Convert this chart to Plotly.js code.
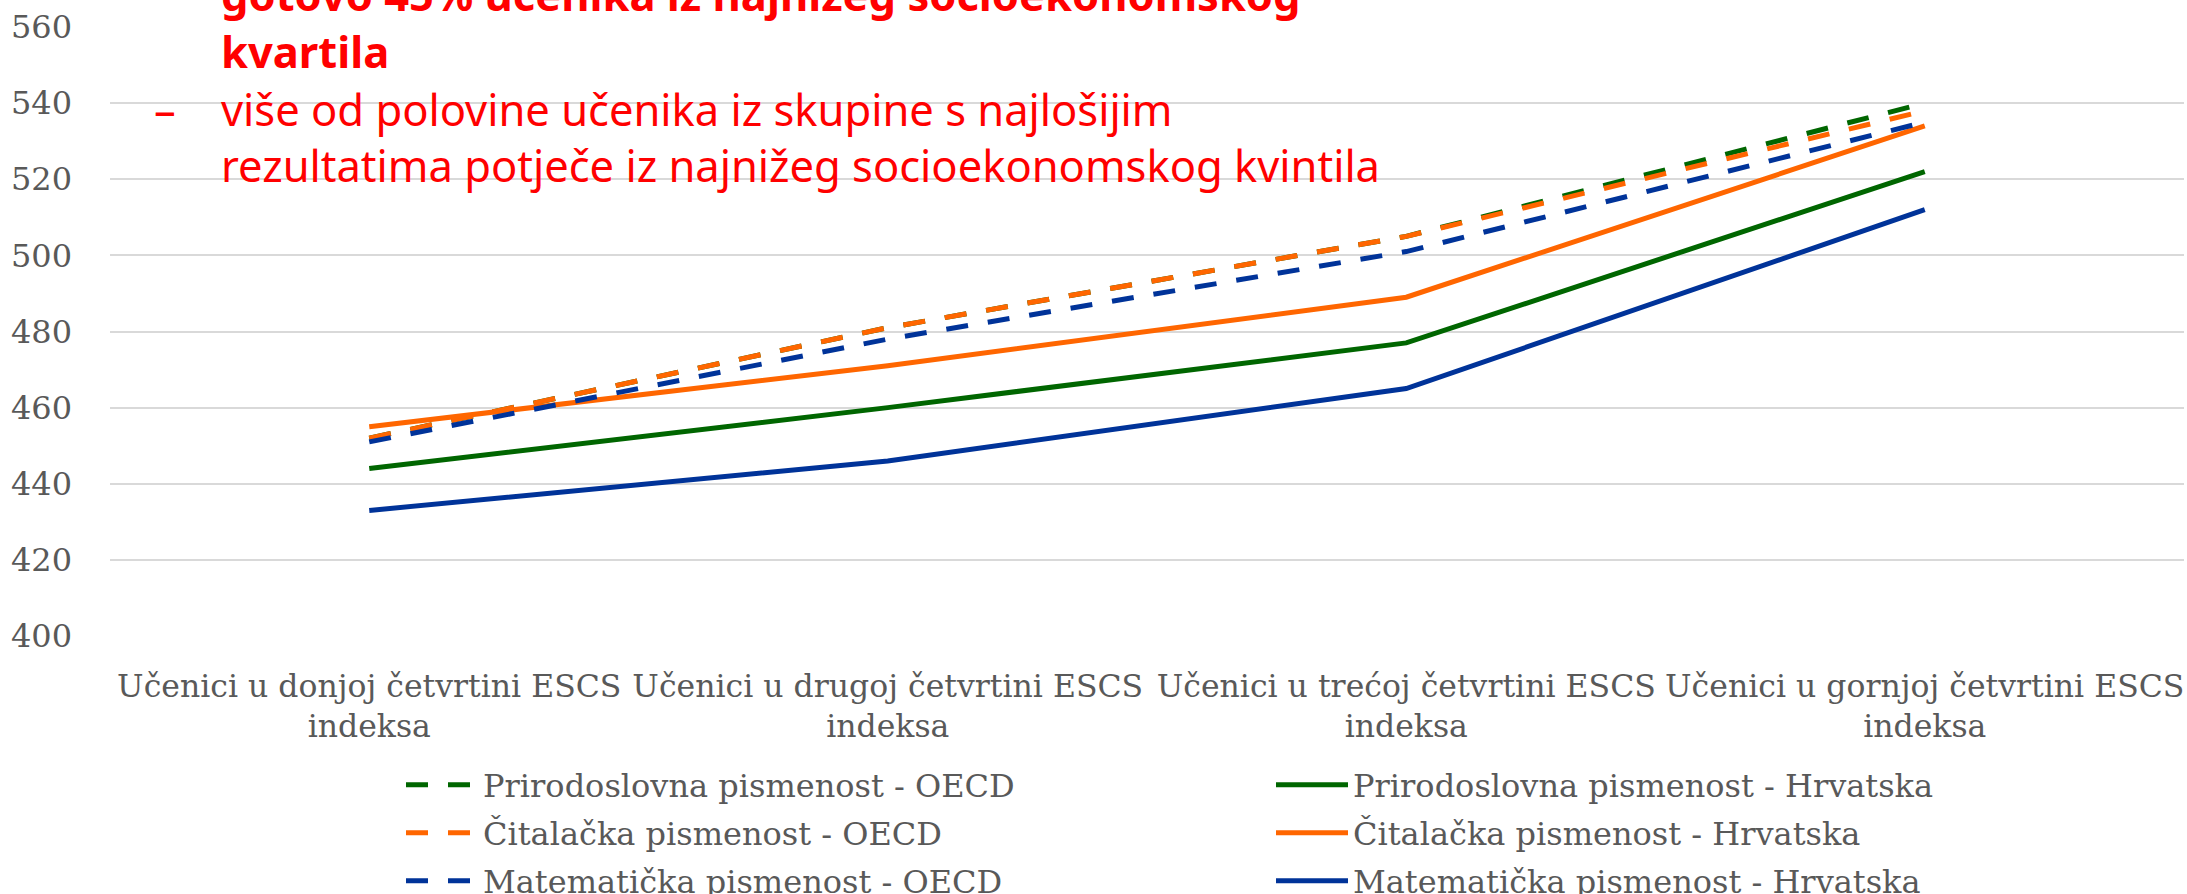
<!DOCTYPE html>
<html>
<head>
<meta charset="utf-8">
<script src="https://cdn.plot.ly/plotly-3.0.1.min.js"></script>
<style>
html,body{margin:0;padding:0;background:#fff;}
#chart{width:2187px;height:894px;}
</style>
</head>
<body>
<div id="chart"></div>
<script>
var categories = [
  "Učenici u donjoj četvrtini ESCS<br>indeksa",
  "Učenici u drugoj četvrtini ESCS<br>indeksa",
  "Učenici u trećoj četvrtini ESCS<br>indeksa",
  "Učenici u gornjoj četvrtini ESCS<br>indeksa"
];
var prirodoslovnaOECD = [452, 481, 505, 540];
var prirodoslovnaHR   = [444, 460, 477, 522];
var citalackaOECD     = [452, 481, 505, 538];
var citalackaHR       = [455, 471, 489, 534];
var matematickaOECD   = [451, 478, 501, 535];
var matematickaHR     = [433, 446, 465, 512];
var seriesNames = [
  "Prirodoslovna pismenost - OECD",
  "Prirodoslovna pismenost - Hrvatska",
  "Čitalačka pismenost - OECD",
  "Čitalačka pismenost - Hrvatska",
  "Matematička pismenost - OECD",
  "Matematička pismenost - Hrvatska"
];
var yTicks = [400, 420, 440, 460, 480, 500, 520, 540, 560];
var noteLines = [
  {text: "gotovo 45% učenika iz najnižeg socioekonomskog", bold: true, bullet: true},
  {text: "kvartila", bold: true, bullet: false},
  {text: "više od polovine učenika iz skupine s najlošijim", bold: false, bullet: true},
  {text: "rezultatima potječe iz najnižeg socioekonomskog kvintila", bold: false, bullet: false}
];

var GREEN = "#006600", ORANGE = "#FF6600", BLUE = "#003399";
var DASH = "22px,20px";
var LW = 5;

function tr(y, name, color, dashed, legend) {
  return {
    type: "scatter", mode: "lines", x: categories, y: y, name: name,
    line: {color: color, width: LW, dash: dashed ? DASH : "solid"},
    legend: legend, hoverinfo: "skip"
  };
}

var data = [
  tr(prirodoslovnaOECD, seriesNames[0], GREEN, true, "legend"),
  tr(prirodoslovnaHR, seriesNames[1], GREEN, false, "legend"),
  tr(citalackaOECD, seriesNames[2], ORANGE, true, "legend2"),
  tr(citalackaHR, seriesNames[3], ORANGE, false, "legend2"),
  tr(matematickaOECD, seriesNames[4], BLUE, true, "legend3"),
  tr(matematickaHR, seriesNames[5], BLUE, false, "legend3")
];

var W = 2187, H = 894;
var mL = 110, mR = 3, mT = 27, mB = 258;
var pw = W - mL - mR, ph = H - mT - mB;
function px2paperX(x) { return (x - mL) / pw; }
function px2paperY(y) { return (H - mB - y) / ph; }

var serif = "DejaVu Serif";
var sans = "Noto Sans";
var redSize = 43.5;
var baselines = [8, 65, 123, 179];
var annotations = [];
noteLines.forEach(function (ln, i) {
  var cy = baselines[i] - 0.33 * redSize;
  annotations.push({
    xref: "paper", yref: "paper", x: px2paperX(219), y: px2paperY(cy),
    xanchor: "left", yanchor: "middle", showarrow: false,
    text: ln.bold ? "<b>" + ln.text + "</b>" : ln.text,
    font: {family: sans, size: redSize, color: "#FF0000"}
  });
  if (ln.bullet) {
    annotations.push({
      xref: "paper", yref: "paper", x: px2paperX(152), y: px2paperY(cy - (i === 0 ? 10 : 0)),
      xanchor: "left", yanchor: "middle", showarrow: false,
      text: "–", font: {family: sans, size: redSize, color: "#FF0000"}
    });
  }
});

function legendCfg(rowCenter) {
  return {
    orientation: "h", xref: "container", yref: "container",
    x: 401 / W, xanchor: "left", y: 1 - rowCenter / H, yanchor: "middle",
    font: {family: serif, size: 32, color: "#595959"},
    entrywidth: 783, entrywidthmode: "pixels", itemwidth: 72,
    bgcolor: "rgba(0,0,0,0)", borderwidth: 0, traceorder: "normal"
  };
}

var layout = {
  width: W, height: H,
  margin: {l: mL, r: mR, t: mT, b: mB, pad: 0},
  paper_bgcolor: "#ffffff", plot_bgcolor: "#ffffff",
  showlegend: true,
  xaxis: {
    type: "category", range: [-0.5, 3.5], showgrid: false, showline: false, zeroline: false, ticks: "",
    ticklabelstandoff: 28,
    tickfont: {family: serif, size: 31.5, color: "#595959"}, automargin: false, fixedrange: true
  },
  yaxis: {
    range: [400, 560], tickvals: yTicks, ticktext: yTicks.map(String), showgrid: true, gridcolor: "#D9D9D9", gridwidth: 2,
    zeroline: false, showline: false, ticks: "", ticklabelstandoff: 37,
    tickfont: {family: serif, size: 32, color: "#595959"}, automargin: false, fixedrange: true
  },
  legend: legendCfg(785),
  legend2: legendCfg(833),
  legend3: legendCfg(881),
  annotations: annotations
};

Plotly.newPlot("chart", data, layout, {displayModeBar: false, staticPlot: true});
</script>
</body>
</html>
